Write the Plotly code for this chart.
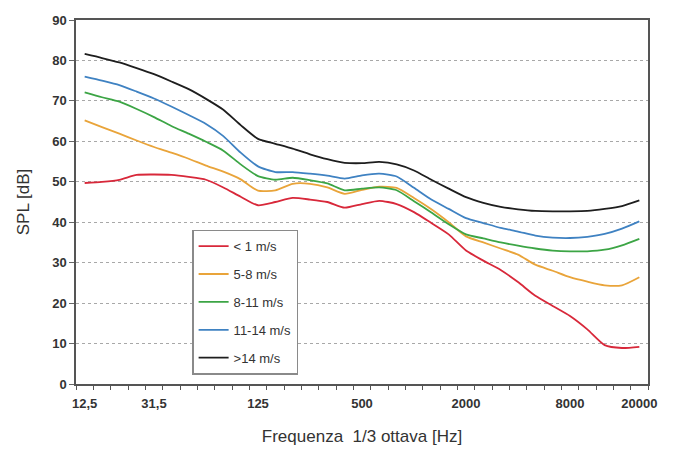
import plotly.graph_objects as go

bands = ["12.5", "16", "20", "25", "31.5", "40", "50", "63", "80", "100", "125", "160",
         "200", "250", "315", "400", "500", "630", "800", "1000", "1250", "1600", "2000",
         "2500", "3150", "4000", "5000", "6300", "8000", "10000", "12500", "16000", "20000"]
labelled = {"12.5": "12,5", "31.5": "31,5", "125": "125", "500": "500",
            "2000": "2000", "8000": "8000", "20000": "20000"}
tick_text = [labelled.get(b, "") for b in bands]

series_names = ["< 1 m/s", "5-8 m/s", "8-11 m/s", "11-14 m/s", ">14 m/s"]
series_colors = ["#d8283a", "#e9a43a", "#3ca545", "#3f82c2", "#1e1e1e"]

spl_lt1 = [49.7, 50.0, 50.5, 51.7, 51.8, 51.7, 51.2, 50.5, 48.6, 46.3, 44.2, 45.0, 46.0,
           45.6, 45.0, 43.6, 44.5, 45.3, 44.5, 42.5, 39.8, 37.0, 33.0, 30.5, 28.2, 25.2,
           21.8, 19.3, 16.8, 13.5, 9.6, 8.9, 9.2]
spl_5_8 = [65.2, 63.5, 61.9, 60.2, 58.6, 57.2, 55.7, 54.0, 52.5, 50.6, 47.8, 47.9, 49.5,
           49.5, 48.6, 47.0, 48.0, 48.8, 48.5, 46.0, 43.2, 40.0, 36.5, 35.0, 33.5, 32.0,
           29.5, 28.0, 26.4, 25.3, 24.4, 24.4, 26.4]
spl_8_11 = [72.1, 70.9, 69.8, 68.0, 66.0, 63.8, 61.9, 59.9, 57.7, 54.3, 51.4, 50.5, 51.0,
            50.4, 49.6, 47.9, 48.3, 48.6, 47.9, 45.2, 42.4, 39.5, 37.0, 36.0, 35.0, 34.2,
            33.5, 33.0, 32.8, 32.8, 33.2, 34.3, 35.9]
spl_11_14 = [76.0, 75.0, 73.9, 72.3, 70.6, 68.6, 66.5, 64.3, 61.3, 57.2, 53.8, 52.4, 52.4,
             52.0, 51.5, 50.8, 51.6, 52.0, 51.3, 48.5, 45.6, 43.3, 41.0, 39.8, 38.6, 37.7,
             36.7, 36.2, 36.1, 36.4, 37.1, 38.4, 40.2]
spl_gt14 = [81.6, 80.6, 79.5, 78.1, 76.6, 74.8, 72.9, 70.5, 67.8, 64.0, 60.6, 59.4, 58.2,
            56.8, 55.6, 54.7, 54.6, 54.9, 54.3, 52.8, 50.5, 48.3, 46.2, 44.8, 43.8, 43.2,
            42.8, 42.7, 42.7, 42.8, 43.3, 44.0, 45.4]

y_ticks = [0, 10, 20, 30, 40, 50, 60, 70, 80, 90]

all_series = [spl_lt1, spl_5_8, spl_8_11, spl_11_14, spl_gt14]

fig = go.Figure()
for i, (name, color, vals) in enumerate(zip(series_names, series_colors, all_series)):
    fig.add_trace(go.Scatter(
        x=bands, y=vals, name=name, mode="lines",
        line=dict(color=color, width=1.8, shape="spline", smoothing=0.6),
        legendgroup=f"g{i}",
    ))

font_family = "Liberation Sans, Arial, sans-serif"

fig.update_layout(
    width=686, height=451,
    margin=dict(l=76, r=38, t=20, b=67),
    paper_bgcolor="white", plot_bgcolor="white",
    font=dict(family=font_family, color="#333333"),
    showlegend=True,
    legend=dict(
        x=0.203, y=0.424, xanchor="left", yanchor="top",
        bordercolor="#8a8a8a", borderwidth=1.5, bgcolor="white",
        font=dict(size=13, color="#333333", family=font_family),
        tracegroupgap=8,
    ),
)

fig.update_xaxes(
    type="category",
    categoryorder="array", categoryarray=bands,
    range=[-0.5, len(bands) - 0.5],
    tickmode="array", tickvals=bands, ticktext=tick_text,
    tickson="boundaries", tickangle=0,
    ticks="outside", ticklen=4, tickcolor="#555555", tickwidth=1.2,
    ticklabelstandoff=7,
    tickfont=dict(size=13, color="#333333", family=font_family, weight="bold"),
    showline=True, linecolor="#555555", linewidth=1.5, mirror=True,
    showgrid=False, automargin=False,
    title=dict(text="Frequenza  1/3 ottava [Hz]", font=dict(size=17, color="#333333"), standoff=20),
)

fig.update_yaxes(
    range=[0, 90],
    tickmode="array", tickvals=y_ticks,
    ticks="outside", ticklen=5, tickcolor="#666666",
    tickfont=dict(size=13, color="#333333", family=font_family, weight="bold"),
    showline=True, linecolor="#555555", linewidth=1.5, mirror=True,
    showgrid=True, gridcolor="#a8a8a8", griddash="dot", gridwidth=1.2,
    zeroline=False, automargin=False,
    title=dict(text="SPL [dB]", font=dict(size=17, color="#333333"), standoff=18),
)

fig.write_html("out.html")
